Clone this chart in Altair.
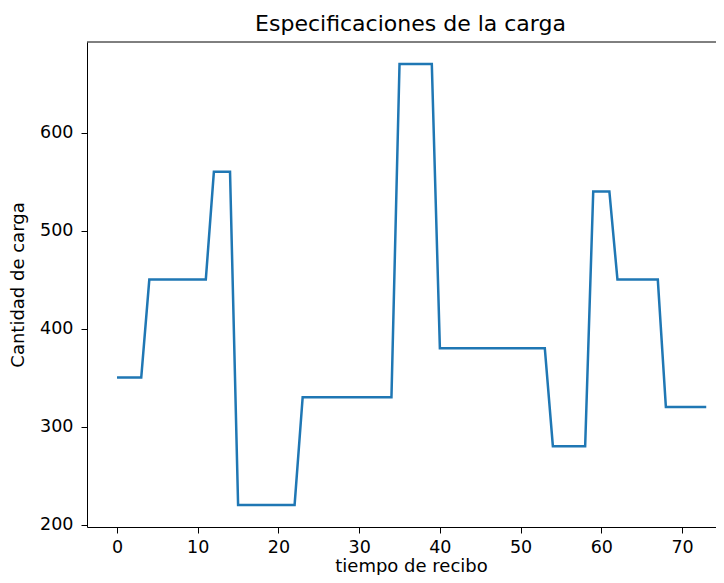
import altair as alt
import pandas as pd

tiempo = list(range(0, 74))
carga = [
    350, 350, 350, 350,
    450, 450, 450, 450, 450, 450, 450, 450,
    560, 560, 560,
    220, 220, 220, 220, 220, 220, 220, 220,
    330, 330, 330, 330, 330, 330, 330, 330, 330, 330, 330, 330,
    670, 670, 670, 670, 670,
    380, 380, 380, 380, 380, 380, 380, 380, 380, 380, 380, 380, 380, 380,
    280, 280, 280, 280, 280,
    540, 540, 540,
    450, 450, 450, 450, 450, 450,
    320, 320, 320, 320, 320, 320,
]
x_ticks = [0, 10, 20, 30, 40, 50, 60, 70]
y_ticks = [200, 300, 400, 500, 600]

df = pd.DataFrame({"tiempo": tiempo, "carga": carga})

FONT = "DejaVu Sans"
W, H = 629, 485

line = (
    alt.Chart(df)
    .mark_line(color="#1f77b4", strokeWidth=2.5)
    .encode(
        x=alt.X(
            "tiempo:Q",
            scale=alt.Scale(domain=[-3.72, 74.21], nice=False, zero=False),
            axis=alt.Axis(
                title="tiempo de recibo",
                values=x_ticks,
                grid=False,
                domainColor="black",
                tickColor="black",
                tickSize=6,
                labelPadding=5,
                labelFontSize=17.5,
                titleFontSize=18,
                titleFontWeight="normal",
                labelColor="black",
                titleColor="black",
                labelFont=FONT,
                titleFont=FONT,
                titlePadding=2,
                titleX=324,
            ),
        ),
        y=alt.Y(
            "carga:Q",
            scale=alt.Scale(domain=[197.5, 692.5], nice=False, zero=False),
            axis=alt.Axis(
                title="Cantidad de carga",
                values=y_ticks,
                grid=False,
                domainColor="black",
                tickColor="black",
                tickSize=6,
                labelPadding=8,
                labelFontSize=17.5,
                titleFontSize=18,
                titleFontWeight="normal",
                labelColor="black",
                titleColor="black",
                labelFont=FONT,
                titleFont=FONT,
                titlePadding=12,
            ),
        ),
    )
)

top_frame = (
    alt.Chart(pd.DataFrame({"k": [0]}))
    .mark_rule(color="black", strokeWidth=1)
    .encode(x=alt.value(0), x2=alt.value(W), y=alt.value(0))
)

chart = (
    alt.layer(line, top_frame)
    .properties(
        width=W,
        height=H,
        title=alt.TitleParams(
            "Especificaciones de la carga",
            font=FONT,
            fontSize=22,
            fontWeight="normal",
            color="black",
            anchor="middle",
            offset=6,
            dx=9,
        ),
        autosize=alt.AutoSizeParams(type="none"),
        padding={"left": 79, "top": 34, "right": 0, "bottom": 48},
    )
    .configure_view(strokeWidth=0)
)

chart.save("out.html", embed_options={"renderer": "svg", "actions": False})
